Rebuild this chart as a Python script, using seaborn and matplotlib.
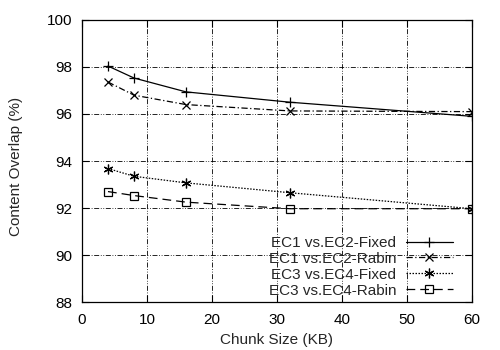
import matplotlib
matplotlib.use("Agg")
import matplotlib.pyplot as plt
import seaborn as sns
import pandas as pd

chunk_sizes = [4, 8, 16, 32, 60]
ec12_fixed = [98.04, 97.53, 96.94, 96.50, 95.90]
ec12_rabin = [97.36, 96.80, 96.40, 96.13, 96.10]
ec34_fixed = [93.68, 93.35, 93.07, 92.65, 91.97]
ec34_rabin = [92.70, 92.53, 92.25, 91.97, 91.97]
series_names = ["EC1 vs.EC2-Fixed", "EC1 vs.EC2-Rabin", "EC3 vs.EC4-Fixed", "EC3 vs.EC4-Rabin"]
x_ticks = [0, 10, 20, 30, 40, 50, 60]
y_ticks = [88, 90, 92, 94, 96, 98, 100]

sns.set_style("ticks")
plt.rcParams['font.family'] = ['Liberation Sans', 'DejaVu Sans']
plt.rcParams['font.size'] = 11

frames = []
for name, vals in zip(series_names, [ec12_fixed, ec12_rabin, ec34_fixed, ec34_rabin]):
    frames.append(pd.DataFrame({"x": chunk_sizes, "y": vals, "series": name}))
df = pd.concat(frames, ignore_index=True)

fig = plt.figure(figsize=(5, 3.5), dpi=100)
ax = fig.add_axes([0.164, 0.137, 0.78, 0.806])

styles = {
    series_names[0]: dict(marker="+", ls="-", ms=7.5),
    series_names[1]: dict(marker="x", ls=(0, (5, 2, 1, 2)), ms=6),
    series_names[2]: dict(marker=(6, 2, 0), ls=(0, (1.2, 1.2)), ms=7),
    series_names[3]: dict(marker="s", ls=(0, (7, 4)), ms=6),
}
for name in series_names:
    st = styles[name]
    sns.lineplot(data=df[df.series == name], x="x", y="y", ax=ax, color="black",
                 lw=0.9, marker=st["marker"], linestyle=st["ls"], markersize=st["ms"],
                 markerfacecolor="none", markeredgecolor="black", markeredgewidth=0.9,
                 label=name, estimator=None)

ax.set_xlim(0, 60)
ax.set_ylim(88, 100)
ax.set_xticks(x_ticks)
ax.set_yticks(y_ticks)
ax.grid(True, color="black", lw=0.6, linestyle=(0, (6, 2, 1, 2, 1, 2)))
ax.tick_params(direction="in", top=True, right=True, length=5, width=0.8, labelsize=11, colors="black")
ax.tick_params(axis="y", pad=7)
ax.tick_params(axis="x", pad=8)
for sp in ax.spines.values():
    sp.set_color("black")
    sp.set_linewidth(0.9)
ax.set_xlabel("Chunk Size (KB)", fontsize=11)
ax.set_ylabel("Content Overlap (%)", fontsize=11)
ax.xaxis.set_label_coords(0.5, -0.108)
ax.yaxis.set_label_coords(-0.15, 0.48)

leg = ax.legend(loc="lower right", bbox_to_anchor=(0.951, 0.015), markerfirst=False, frameon=False,
                handlelength=3.1, labelspacing=0.13, borderaxespad=0, borderpad=0,
                fontsize=11, handletextpad=0.6)

fig.savefig("out.png", dpi=100)
